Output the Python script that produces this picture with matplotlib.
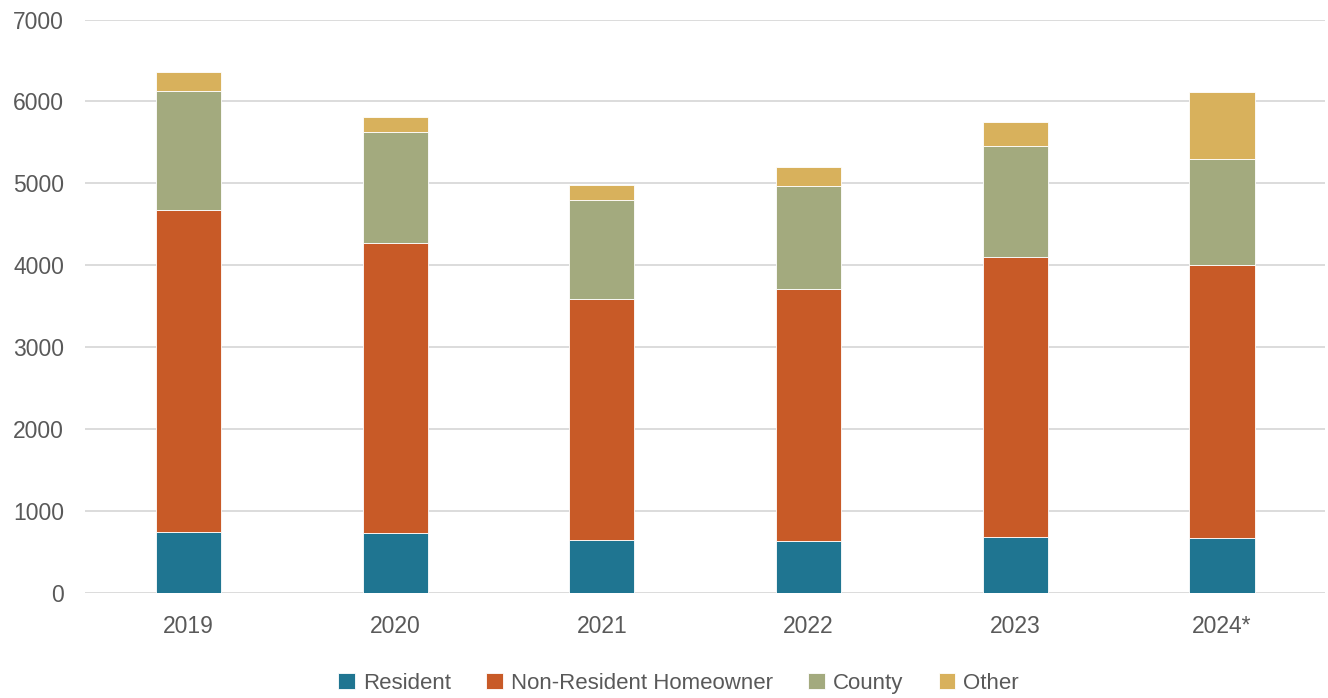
import matplotlib
matplotlib.use('Agg')
import matplotlib.pyplot as plt
import numpy as np

# 数据
years = ['2019', '2020', '2021', '2022', '2023', '2024*']
resident = [745, 723, 638, 625, 674, 662]
non_resident = [3925, 3543, 2954, 3078, 3421, 3335]
county = [1452, 1361, 1202, 1263, 1361, 1299]
other = [232, 184, 184, 232, 294, 822]

series = [
    ('Resident', resident, '#1F7591'),
    ('Non-Resident Homeowner', non_resident, '#C85A27'),
    ('County', county, '#A3AA7E'),
    ('Other', other, '#D8B15C'),
]

plt.rcParams['font.family'] = ['Liberation Sans', 'DejaVu Sans']

fig = plt.figure(figsize=(13.28, 6.98), dpi=100)
ax = fig.add_axes([0.064, 0.151, 0.934, 0.821])

x = np.arange(len(years))
bottom = np.zeros(len(years))
for name, vals, color in series:
    ax.bar(x, vals, 0.315, bottom=bottom, color=color, label=name,
           edgecolor='white', linewidth=0.6, zorder=3)
    bottom += np.array(vals)

ax.set_ylim(0, 7000)
ax.set_xlim(-0.5, len(years) - 0.5)
ax.set_yticks(range(0, 7001, 1000))
ax.set_xticks(x)
ax.set_xticklabels(years)
ax.yaxis.grid(True, color='#D9D9D9', linewidth=1.3, zorder=0)
ax.tick_params(axis='both', length=0, labelsize=16.5, colors='#595959')
ax.tick_params(axis='y', pad=15)
ax.tick_params(axis='x', pad=16)
for s in ax.spines.values():
    s.set_visible(False)

fig.legend(loc='center', bbox_to_anchor=(0.511, 0.021), ncol=4, frameon=False,
           fontsize=16, labelcolor='#595959', handlelength=0.75, handleheight=0.75,
           handletextpad=0.35, columnspacing=1.6)

fig.savefig('out.png', dpi=100, facecolor='white')
